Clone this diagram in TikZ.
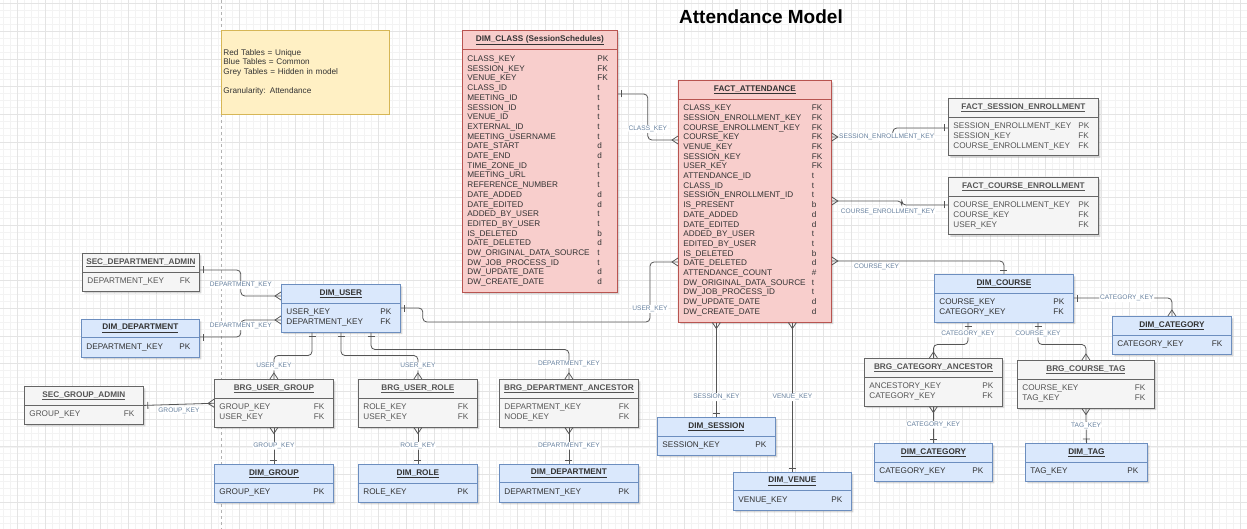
\documentclass[tikz,border=0pt]{standalone}
\usepackage{fontspec}
\setmainfont{Liberation Sans}
\usetikzlibrary{shapes.multipart,shadows,decorations.markings}

\definecolor{redfill}{HTML}{F8CECC}
\definecolor{redline}{HTML}{B85450}
\definecolor{bluefill}{HTML}{DAE8FC}
\definecolor{blueline}{HTML}{6C8EBF}
\definecolor{greyfill}{HTML}{F5F5F5}
\definecolor{greyline}{HTML}{666666}
\definecolor{notefill}{HTML}{FFF0C4}
\definecolor{noteline}{HTML}{D6B656}
\definecolor{linkcol}{HTML}{555555}
\definecolor{keycol}{HTML}{66809E}
\definecolor{bodytext}{HTML}{333333}
\definecolor{greytext}{HTML}{555555}
\definecolor{gridmin}{HTML}{F3F3F3}
\definecolor{gridmaj}{HTML}{E4E4E4}

% table header and rows
\newcommand{\erhead}[1]{\hbox to\linewidth{\hss\underline{\textbf{#1}}\hss}}
\newcommand{\errows}[1]{\begin{tabular*}{\linewidth}{@{}l@{\extracolsep{\fill}}l@{\hspace{4pt}}}#1\end{tabular*}}

\tikzset{
  ertable/.style={rectangle split, rectangle split parts=2, anchor=north west,
    text width=#1pt, inner xsep=5pt, inner ysep=4.5pt, line width=0.8pt,
    font=\fontsize{8.2}{9.7}\selectfont,
    drop shadow={opacity=0.3, shadow xshift=2pt, shadow yshift=-2pt}},
  redtable/.style={ertable=#1, fill=redfill, draw=redline, text=bodytext},
  bluetable/.style={ertable=#1, fill=bluefill, draw=blueline, text=bodytext},
  greytable/.style={ertable=#1, fill=greyfill, draw=greyline, text=greytext},
  notebox/.style={anchor=north west, fill=notefill, draw=noteline, line width=0.8pt,
    minimum width=168pt, minimum height=84pt, text width=164pt, inner xsep=2pt,
    inner ysep=0pt, align=left, font=\fontsize{8.2}{9.7}\selectfont, text=bodytext},
  link/.style={draw=linkcol, line width=0.8pt, rounded corners=4pt},
  keylabel/.style={font=\fontsize{6.6}{7}\selectfont, text=keycol, fill=white, inner sep=1pt},
  onestart/.style={postaction={decorate, decoration={markings, mark=at position 4pt with
    {\draw[linkcol, line width=0.8pt, sharp corners] (0,-3.5pt) -- (0,3.5pt);}}}},
  oneend/.style={postaction={decorate, decoration={markings, mark=at position -4pt with
    {\draw[linkcol, line width=0.8pt, sharp corners] (0,-3.5pt) -- (0,3.5pt);}}}},
  manystart/.style={postaction={decorate, decoration={markings, mark=at position 6pt with
    {\draw[linkcol, line width=0.8pt, sharp corners] (-6pt,-4pt) -- (0,0) -- (-6pt,4pt);}}}},
  manyend/.style={postaction={decorate, decoration={markings, mark=at position -6pt with
    {\draw[linkcol, line width=0.8pt, sharp corners] (6pt,-4pt) -- (0,0) -- (6pt,4pt);}}}},
}

\begin{document}
\begin{tikzpicture}[x=1pt, y=-1pt]
\useasboundingbox (0,0) rectangle (1247,529);
\fill[white] (0,0) rectangle (1247,529);

% grid
\foreach \gx in {3.1,10.05,...,1247} \draw[gridmin, line width=0.4pt] (\gx,0) -- (\gx,529);
\foreach \gy in {3.5,10.425,...,529} \draw[gridmin, line width=0.4pt] (0,\gy) -- (1247,\gy);
\foreach \gx in {17,44.8,...,1247} \draw[gridmaj, line width=0.5pt] (\gx,0) -- (\gx,529);
\foreach \gy in {3.5,31.2,...,529} \draw[gridmaj, line width=0.5pt] (0,\gy) -- (1247,\gy);
\draw[gray!60, dashed, line width=0.4pt] (221,0) -- (221,529);

\node (title) [font=\fontsize{19}{22}\selectfont\bfseries] at (761,17) {Attendance Model};

\node (legend) [notebox] at (221,30) {Red Tables = Unique\\ Blue Tables = Common\\
  Grey Tables = Hidden in model\\[9.7pt] Granularity: Attendance};

% red tables
\node (dimclass) [redtable=145] at (462,30) {\erhead{DIM\_CLASS (SessionSchedules)}
  \nodepart{two}\errows{CLASS\_KEY & PK\\ SESSION\_KEY & FK\\ VENUE\_KEY & FK\\
  CLASS\_ID & t\\ MEETING\_ID & t\\ SESSION\_ID & t\\ VENUE\_ID & t\\ EXTERNAL\_ID & t\\
  MEETING\_USERNAME & t\\ DATE\_START & d\\ DATE\_END & d\\ TIME\_ZONE\_ID & t\\
  MEETING\_URL & t\\ REFERENCE\_NUMBER & t\\ DATE\_ADDED & d\\ DATE\_EDITED & d\\
  ADDED\_BY\_USER & t\\ EDITED\_BY\_USER & t\\ IS\_DELETED & b\\ DATE\_DELETED & d\\
  DW\_ORIGINAL\_DATA\_SOURCE & t\\ DW\_JOB\_PROCESS\_ID & t\\ DW\_UPDATE\_DATE & d\\
  DW\_CREATE\_DATE & d}};
\node (factatt) [redtable=143] at (678,80) {\erhead{FACT\_ATTENDANCE}
  \nodepart{two}\errows{CLASS\_KEY & FK\\ SESSION\_ENROLLMENT\_KEY & FK\\
  COURSE\_ENROLLMENT\_KEY & FK\\ COURSE\_KEY & FK\\ VENUE\_KEY & FK\\ SESSION\_KEY & FK\\
  USER\_KEY & FK\\ ATTENDANCE\_ID & t\\ CLASS\_ID & t\\ SESSION\_ENROLLMENT\_ID & t\\
  IS\_PRESENT & b\\ DATE\_ADDED & d\\ DATE\_EDITED & d\\ ADDED\_BY\_USER & t\\
  EDITED\_BY\_USER & t\\ IS\_DELETED & b\\ DATE\_DELETED & d\\ ATTENDANCE\_COUNT & \#\\
  DW\_ORIGINAL\_DATA\_SOURCE & t\\ DW\_JOB\_PROCESS\_ID & t\\ DW\_UPDATE\_DATE & d\\
  DW\_CREATE\_DATE & d}};

% grey tables
\node (factsess) [greytable=140] at (948,98) {\erhead{FACT\_SESSION\_ENROLLMENT}
  \nodepart{two}\errows{SESSION\_ENROLLMENT\_KEY & PK\\ SESSION\_KEY & FK\\
  COURSE\_ENROLLMENT\_KEY & FK}};
\node (factcourse) [greytable=140] at (948,177) {\erhead{FACT\_COURSE\_ENROLLMENT}
  \nodepart{two}\errows{COURSE\_ENROLLMENT\_KEY & PK\\ COURSE\_KEY & FK\\ USER\_KEY & FK}};
\node (secdept) [greytable=107] at (82,253) {\erhead{SEC\_DEPARTMENT\_ADMIN}
  \nodepart{two}\errows{DEPARTMENT\_KEY & FK}};
\node (secgrp) [greytable=109] at (24,386) {\erhead{SEC\_GROUP\_ADMIN}
  \nodepart{two}\errows{GROUP\_KEY & FK}};
\node (brgug) [greytable=109] at (214,379) {\erhead{BRG\_USER\_GROUP}
  \nodepart{two}\errows{GROUP\_KEY & FK\\ USER\_KEY & FK}};
\node (brgur) [greytable=109] at (358,379) {\erhead{BRG\_USER\_ROLE}
  \nodepart{two}\errows{ROLE\_KEY & FK\\ USER\_KEY & FK}};
\node (brgda) [greytable=129] at (499,379) {\erhead{BRG\_DEPARTMENT\_ANCESTOR}
  \nodepart{two}\errows{DEPARTMENT\_KEY & FK\\ NODE\_KEY & FK}};
\node (brgcat) [greytable=128] at (864,358) {\erhead{BRG\_CATEGORY\_ANCESTOR}
  \nodepart{two}\errows{ANCESTORY\_KEY & PK\\ CATEGORY\_KEY & FK}};
\node (brgtag) [greytable=127] at (1017,360) {\erhead{BRG\_COURSE\_TAG}
  \nodepart{two}\errows{COURSE\_KEY & FK\\ TAG\_KEY & FK}};

% blue tables
\node (dimuser) [bluetable=109] at (281,284) {\erhead{DIM\_USER}
  \nodepart{two}\errows{USER\_KEY & PK\\ DEPARTMENT\_KEY & FK}};
\node (dimdeptL) [bluetable=108] at (81,319) {\erhead{DIM\_DEPARTMENT}
  \nodepart{two}\errows{DEPARTMENT\_KEY & PK}};
\node (dimgrp) [bluetable=109] at (214,464) {\erhead{DIM\_GROUP}
  \nodepart{two}\errows{GROUP\_KEY & PK}};
\node (dimrole) [bluetable=109] at (358,464) {\erhead{DIM\_ROLE}
  \nodepart{two}\errows{ROLE\_KEY & PK}};
\node (dimdeptB) [bluetable=129] at (499,464) {\erhead{DIM\_DEPARTMENT}
  \nodepart{two}\errows{DEPARTMENT\_KEY & PK}};
\node (dimsess) [bluetable=108] at (657,417) {\erhead{DIM\_SESSION}
  \nodepart{two}\errows{SESSION\_KEY & PK}};
\node (dimvenue) [bluetable=108] at (733,472) {\erhead{DIM\_VENUE}
  \nodepart{two}\errows{VENUE\_KEY & PK}};
\node (dimcourse) [bluetable=129] at (934,274) {\erhead{DIM\_COURSE}
  \nodepart{two}\errows{COURSE\_KEY & PK\\ CATEGORY\_KEY & FK}};
\node (dimcatR) [bluetable=109] at (1112,316) {\erhead{DIM\_CATEGORY}
  \nodepart{two}\errows{CATEGORY\_KEY & FK}};
\node (dimcatB) [bluetable=108] at (874,443) {\erhead{DIM\_CATEGORY}
  \nodepart{two}\errows{CATEGORY\_KEY & PK}};
\node (dimtag) [bluetable=112] at (1025,443) {\erhead{DIM\_TAG}
  \nodepart{two}\errows{TAG\_KEY & PK}};

% links around the fact table
\draw[link, onestart, manyend] ([yshift=-64pt]dimclass.north east) -- ++(30,0)
  |- node[keylabel, pos=0.38] {CLASS\_KEY} ([yshift=-60pt]factatt.north west);
\draw[link, manystart, oneend] ([yshift=-57pt]factatt.north east)
  -- node[keylabel, pos=0.9] {SESSION\_ENROLLMENT\_KEY} ++(61,0) |- ([yshift=-30pt]factsess.north west);
\draw[link, manystart, oneend] ([yshift=-121pt]factatt.north east)
  -- node[keylabel, below=6pt, pos=0.8] {COURSE\_ENROLLMENT\_KEY} ++(70,0) |- ([yshift=-28pt]factcourse.north west);
\draw[link, manystart, oneend] ([yshift=-181pt]factatt.north east)
  -| node[keylabel, below=1pt, pos=0.13] {COURSE\_KEY} (dimcourse.north);
\draw[link, onestart, manyend] ([yshift=-24pt]dimuser.north east) -- ++(22,0) -- ++(0,14)
  -| node[keylabel, pos=0.61] {USER\_KEY} ([xshift=-28pt, yshift=-182pt]factatt.north west)
  -- ([yshift=-182pt]factatt.north west);
\draw[link, manystart, oneend] (dimsess.north |- factatt.south) -- node[keylabel, pos=0.79] {SESSION\_KEY} (dimsess.north);
\draw[link, manystart, oneend] (dimvenue.north |- factatt.south) -- node[keylabel] {VENUE\_KEY} (dimvenue.north);

% user side
\draw[link, onestart, manyend] ([yshift=-17pt]secdept.north east) -- ++(41,0)
  |- node[keylabel, pos=0.29] {DEPARTMENT\_KEY} ([yshift=-12pt]dimuser.north west);
\draw[link, onestart, manyend] ([yshift=-18pt]dimdeptL.north east) -- ++(41,0)
  |- node[keylabel, pos=0.32] {DEPARTMENT\_KEY} ([yshift=-36pt]dimuser.north west);
\draw[link, onestart, manyend] ([xshift=31pt]dimuser.south west) -- ++(0,23)
  -| node[keylabel, pos=0.73] {USER\_KEY} (brgug.north);
\draw[link, onestart, manyend] ([xshift=60pt]dimuser.south west) -- ++(0,23)
  -| node[keylabel, pos=0.73] {USER\_KEY} (brgur.north);
\draw[link, onestart, manyend] ([xshift=90pt]dimuser.south west) -- ++(0,17)
  -| node[keylabel, pos=0.75] {DEPARTMENT\_KEY} (brgda.north);
\draw[link, onestart, manyend] (secgrp.east) -- node[keylabel, below=2pt] {GROUP\_KEY} (brgug.west);
\draw[link, manystart, oneend] (brgug.south) -- node[keylabel] {GROUP\_KEY} (dimgrp.north);
\draw[link, manystart, oneend] (brgur.south) -- node[keylabel] {ROLE\_KEY} (dimrole.north);
\draw[link, manystart, oneend] (brgda.south) -- node[keylabel] {DEPARTMENT\_KEY} (dimdeptB.north);

% course side
\draw[link, onestart, manyend] ([yshift=-24pt]dimcourse.north east)
  -| node[keylabel, pos=0.27] {CATEGORY\_KEY} (dimcatR.north);
\draw[link, onestart, manyend] ([xshift=34pt]dimcourse.south west)
  -- node[keylabel] {CATEGORY\_KEY} ++(0,22) -| (brgcat.north);
\draw[link, onestart, manyend] ([xshift=104pt]dimcourse.south west)
  -- node[keylabel] {COURSE\_KEY} ++(0,22) -| (brgtag.north);
\draw[link, manystart, oneend] (brgcat.south) -- node[keylabel] {CATEGORY\_KEY} (dimcatB.north);
\draw[link, manystart, oneend] (brgtag.south) -- node[keylabel] {TAG\_KEY} (dimtag.north);
\end{tikzpicture}
\end{document}
